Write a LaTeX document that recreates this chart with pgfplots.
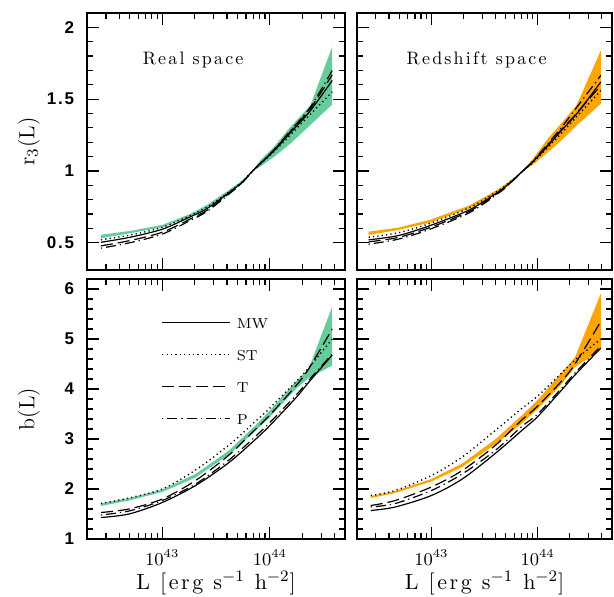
\documentclass[border=0pt]{standalone}
\usepackage{fontspec}
\usepackage{pgfplots}
\usepackage{pgfplotstable}
\pgfplotsset{compat=1.18}
\newfontfamily\ticksans[LetterSpace=10]{Liberation Sans}
\newfontfamily\lspaced[LetterSpace=12]{lmroman10-regular.otf}
\definecolor{bgreen}{RGB}{102,204,153}
\definecolor{borange}{RGB}{255,165,0}

% Real space r3
\pgfplotstableread{
L        MW     ST     T      P
2.69e42  0.503  0.520  0.478  0.462
5.01e42  0.538  0.553  0.515  0.500
1e43     0.594  0.607  0.573  0.560
1.82e43  0.680  0.690  0.665  0.655
2.63e43  0.740  0.750  0.728  0.720
4.27e43  0.855  0.860  0.849  0.845
5.5e43   0.920  0.922  0.917  0.915
6.92e43  1.000  1.000  1.000  1.000
8.13e43  1.050  1.048  1.051  1.052
1.09e44  1.140  1.134  1.144  1.147
1.55e44  1.265  1.250  1.274  1.280
2.38e44  1.420  1.395  1.435  1.445
3.8e44   1.630  1.550  1.670  1.700
}\rreal
% Redshift space r3
\pgfplotstableread{
L        MW     ST     T      P
2.57e42  0.520  0.538  0.506  0.490
4.9e42   0.550  0.570  0.537  0.525
9.77e42  0.620  0.635  0.607  0.595
2.29e43  0.730  0.745  0.720  0.710
4.37e43  0.860  0.868  0.855  0.850
5.62e43  0.925  0.930  0.922  0.920
7.24e43  1.000  1.000  1.000  1.000
8.91e43  1.060  1.055  1.062  1.065
1.245e44 1.175  1.165  1.180  1.190
1.66e44  1.280  1.260  1.285  1.300
2.31e44  1.395  1.375  1.400  1.440
3.92e44  1.620  1.560  1.595  1.665
}\rred
% Real space b
\pgfplotstableread{
L        MW     ST     T      P
2.69e42  1.430  1.710  1.530  1.480
4.9e42   1.500  1.820  1.600  1.560
1e43     1.730  2.000  1.800  1.770
2.04e43  2.070  2.380  2.170  2.100
4.17e43  2.530  2.880  2.680  2.580
7.41e43  3.000  3.360  3.200  3.060
1e44     3.270  3.620  3.480  3.330
1.74e44  3.820  4.140  4.060  3.870
2.29e44  4.130  4.420  4.400  4.170
3.8e44   4.680  5.000  5.200  4.700
}\breal
% Redshift space b
\pgfplotstableread{
L        MW     ST     T      P
2.69e42  1.570  1.870  1.670  1.640
4.57e42  1.640  1.970  1.770  1.710
1e43     1.870  2.270  2.040  1.970
1.95e43  2.200  2.640  2.370  2.300
3.98e43  2.710  3.170  2.870  2.770
7.08e43  3.170  3.610  3.380  3.250
1e44     3.450  3.860  3.660  3.500
1.68e44  3.980  4.320  4.160  4.020
2.24e44  4.280  4.580  4.500  4.320
3.92e44  4.820  5.000  5.350  4.860
}\bred

\pgfplotsset{
 lmw/.style={black, line width=0.6pt},
 lst/.style={black, line width=0.7pt, dash pattern=on 0.6pt off 1.6pt},
 ltt/.style={black, line width=0.6pt, dash pattern=on 6pt off 2.5pt},
 lpp/.style={black, line width=0.6pt, dash pattern=on 0.6pt off 2pt on 5pt off 2pt},
}

\begin{document}
\begin{tikzpicture}
\path[use as bounding box] (-43.5pt,-28.5pt) rectangle (263.5pt,269.5pt);

% top-left
\begin{axis}[at={(0pt,134.5pt)}, anchor=south west, width=129pt, height=128.5pt,
  scale only axis, xmode=log, xmin=2e42, xmax=5e44, ymin=0.31, ymax=2.1,
  tick align=inside, major tick length=6pt, minor tick length=3pt,
  axis line style={line width=0.8pt}, every tick/.style={black, line width=0.6pt},
  xtick={1e43,1e44}, xticklabels={},
  minor xtick={3e42,4e42,5e42,6e42,7e42,8e42,9e42,2e43,3e43,4e43,5e43,6e43,7e43,8e43,9e43,2e44,3e44,4e44},
  ytick={0.5,1,1.5,2}, yticklabels={0.5,1,1.5,2}, minor y tick num=4,
  yticklabel style={font=\ticksans\bfseries\fontsize{8.5}{10}\selectfont, xshift=-3pt},
  ylabel={r$_3$(L)}, ylabel style={at={(axis description cs:-0.225,0.5)}, rotate=0, anchor=center, font=\fontsize{11}{13}\selectfont}]
\addplot[fill=bgreen, draw=none, forget plot] coordinates {
 (2.69e42,0.555) (5.01e42,0.582) (1e43,0.624) (1.82e43,0.700) (2.63e43,0.765) (4.27e43,0.872)
 (5.5e43,0.932) (6.92e43,1.000) (8.13e43,1.074) (1.09e44,1.167) (1.55e44,1.306) (2.38e44,1.456) (3.8e44,1.866)
 (3.8e44,1.463) (2.38e44,1.320) (1.55e44,1.190) (1.09e44,1.097) (8.13e43,1.030) (6.92e43,1.000)
 (5.5e43,0.912) (4.27e43,0.850) (2.63e43,0.745) (1.82e43,0.680) (1e43,0.607) (5.01e42,0.566) (2.69e42,0.531)} -- cycle;
\addplot[lmw, smooth] table[x=L,y=MW] {\rreal};
\addplot[lst, smooth] table[x=L,y=ST] {\rreal};
\addplot[ltt, smooth] table[x=L,y=T] {\rreal};
\addplot[lpp, smooth] table[x=L,y=P] {\rreal};
\node[font=\lspaced\fontsize{9}{11}\selectfont] at (rel axis cs:0.411,0.817) {Real space};
\end{axis}

% top-right
\begin{axis}[at={(135pt,134.5pt)}, anchor=south west, width=127.5pt, height=128.5pt,
  scale only axis, xmode=log, xmin=2e42, xmax=5e44, ymin=0.31, ymax=2.1,
  tick align=inside, major tick length=6pt, minor tick length=3pt,
  axis line style={line width=0.8pt}, every tick/.style={black, line width=0.6pt},
  xtick={1e43,1e44}, xticklabels={},
  minor xtick={3e42,4e42,5e42,6e42,7e42,8e42,9e42,2e43,3e43,4e43,5e43,6e43,7e43,8e43,9e43,2e44,3e44,4e44},
  ytick={0.5,1,1.5,2}, yticklabels={}, minor y tick num=4]
\addplot[fill=borange, draw=none, forget plot] coordinates {
 (2.57e42,0.577) (4.9e42,0.605) (9.77e42,0.660) (2.29e43,0.760) (4.37e43,0.877) (5.62e43,0.937)
 (7.24e43,1.000) (8.91e43,1.080) (1.245e44,1.225) (1.66e44,1.330) (2.31e44,1.456) (3.92e44,1.838)
 (3.92e44,1.468) (2.31e44,1.315) (1.66e44,1.210) (1.245e44,1.130) (8.91e43,1.040) (7.24e43,1.000)
 (5.62e43,0.915) (4.37e43,0.850) (2.29e43,0.740) (9.77e42,0.640) (4.9e42,0.589) (2.57e42,0.554)} -- cycle;
\addplot[lmw, smooth] table[x=L,y=MW] {\rred};
\addplot[lst, smooth] table[x=L,y=ST] {\rred};
\addplot[ltt, smooth] table[x=L,y=T] {\rred};
\addplot[lpp, smooth] table[x=L,y=P] {\rred};
\node[font=\lspaced\fontsize{9}{11}\selectfont] at (rel axis cs:0.469,0.817) {Redshift space};
\end{axis}

% bottom-left
\begin{axis}[at={(0pt,0pt)}, anchor=south west, width=129pt, height=130pt,
  scale only axis, xmode=log, xmin=2e42, xmax=5e44, ymin=1, ymax=6.2,
  tick align=inside, major tick length=6pt, minor tick length=3pt,
  axis line style={line width=0.8pt}, every tick/.style={black, line width=0.6pt},
  xtick={1e43,1e44}, xticklabels={$10^{43}$,$10^{44}$},
  xticklabel style={font=\fontsize{9}{10}\selectfont, yshift=-2pt},
  minor xtick={3e42,4e42,5e42,6e42,7e42,8e42,9e42,2e43,3e43,4e43,5e43,6e43,7e43,8e43,9e43,2e44,3e44,4e44},
  ytick={1,2,3,4,5,6}, yticklabels={1,2,3,4,5,6}, minor y tick num=4,
  yticklabel style={font=\ticksans\bfseries\fontsize{8.5}{10}\selectfont, xshift=-3pt},
  ylabel={b(L)}, ylabel style={at={(axis description cs:-0.225,0.5)}, rotate=0, anchor=center, font=\fontsize{11}{13}\selectfont},
  xlabel={L [erg s$^{-1}$ h$^{-2}$]}, xlabel style={at={(axis description cs:0.5,0)}, yshift=-22pt, anchor=center, font=\lspaced\fontsize{11}{13}\selectfont},
  legend style={draw=none, fill=none, at={(axis description cs:0.287,0.858)}, anchor=north west, inner sep=0pt, row sep=9pt,
    font=\fontsize{7.2}{9}\selectfont, nodes={inner sep=0pt, text height=6pt, text depth=1pt},
    /tikz/every odd column/.append style={column sep=3pt}},
  legend cell align=left,
  legend image code/.code={\draw[#1] (0pt,0.4pt) -- (34pt,0.4pt);}]
\addplot[fill=bgreen, draw=none, forget plot] coordinates {
 (2.69e42,1.710) (4.9e42,1.820) (1e43,1.990) (2.04e43,2.300) (4.17e43,2.770) (7.41e43,3.280)
 (1e44,3.570) (1.74e44,4.150) (2.29e44,4.400) (3.8e44,5.650)
 (3.8e44,4.470) (2.29e44,4.220) (1.74e44,4.000) (1e44,3.440) (7.41e43,3.170) (4.17e43,2.690)
 (2.04e43,2.230) (1e43,1.940) (4.9e42,1.770) (2.69e42,1.660)} -- cycle;
\addplot[lmw, smooth] table[x=L,y=MW] {\breal};
\addlegendentry{MW}
\addplot[lst, smooth] table[x=L,y=ST] {\breal};
\addlegendentry{ST}
\addplot[ltt, smooth] table[x=L,y=T] {\breal};
\addlegendentry{T}
\addplot[lpp, smooth] table[x=L,y=P] {\breal};
\addlegendentry{P}
\end{axis}

% bottom-right
\begin{axis}[at={(135pt,0pt)}, anchor=south west, width=127.5pt, height=130pt,
  scale only axis, xmode=log, xmin=2e42, xmax=5e44, ymin=1, ymax=6.2,
  tick align=inside, major tick length=6pt, minor tick length=3pt,
  axis line style={line width=0.8pt}, every tick/.style={black, line width=0.6pt},
  xtick={1e43,1e44}, xticklabels={$10^{43}$,$10^{44}$},
  xticklabel style={font=\fontsize{9}{10}\selectfont, yshift=-2pt},
  minor xtick={3e42,4e42,5e42,6e42,7e42,8e42,9e42,2e43,3e43,4e43,5e43,6e43,7e43,8e43,9e43,2e44,3e44,4e44},
  ytick={1,2,3,4,5,6}, yticklabels={}, minor y tick num=4,
  xlabel={L [erg s$^{-1}$ h$^{-2}$]}, xlabel style={at={(axis description cs:0.5,0)}, yshift=-22pt, anchor=center, font=\lspaced\fontsize{11}{13}\selectfont}]
\addplot[fill=borange, draw=none, forget plot] coordinates {
 (2.69e42,1.860) (4.57e42,1.960) (1e43,2.200) (1.95e43,2.510) (3.98e43,2.990) (7.08e43,3.470)
 (1e44,3.780) (1.68e44,4.330) (2.24e44,4.630) (3.92e44,5.910)
 (3.92e44,4.780) (2.24e44,4.440) (1.68e44,4.100) (1e44,3.600) (7.08e43,3.310) (3.98e43,2.890)
 (1.95e43,2.440) (1e43,2.150) (4.57e42,1.920) (2.69e42,1.820)} -- cycle;
\addplot[lmw, smooth] table[x=L,y=MW] {\bred};
\addplot[lst, smooth] table[x=L,y=ST] {\bred};
\addplot[ltt, smooth] table[x=L,y=T] {\bred};
\addplot[lpp, smooth] table[x=L,y=P] {\bred};
\end{axis}
\end{tikzpicture}
\end{document}
